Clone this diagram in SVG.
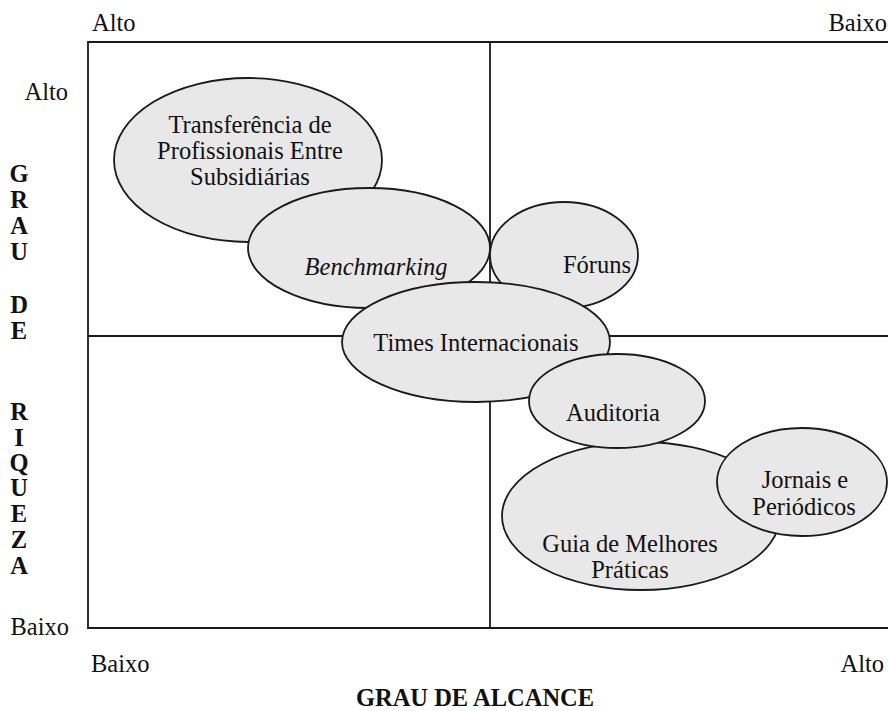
<svg xmlns="http://www.w3.org/2000/svg" width="888" height="711" viewBox="0 0 888 711">
<style>
text{font-family:"Liberation Serif","Times New Roman",serif;font-size:24.5px;fill:#111}
.c{text-anchor:middle}
.b{font-weight:bold}
.ax line,.ax path{stroke:#1a1a1a;stroke-width:1.8;fill:none}
ellipse{fill:#e8e8e8;stroke:#1a1a1a;stroke-width:1.8}
</style>
<rect width="888" height="711" fill="#fff"/>
<g id="axes" class="ax">
<path d="M888 42 H88 V628 H888"/>
<line x1="490" y1="42" x2="490" y2="628"/>
<line x1="88" y1="336" x2="888" y2="336"/>
</g>
<g id="labels">
<text x="92" y="31">Alto</text>
<text x="887" y="31" text-anchor="end">Baixo</text>
<text x="68" y="100" text-anchor="end">Alto</text>
<text x="69" y="635" text-anchor="end">Baixo</text>
<text x="91" y="672">Baixo</text>
<text x="884" y="672" text-anchor="end">Alto</text>
<text x="475" y="706" class="c b">GRAU DE ALCANCE</text>
<g class="b">
<text x="19" y="182" class="c">G</text>
<text x="19" y="208" class="c">R</text>
<text x="19" y="234" class="c">A</text>
<text x="19" y="260" class="c">U</text>
<text x="19" y="313" class="c">D</text>
<text x="19" y="339" class="c">E</text>
<text x="19" y="420" class="c">R</text>
<text x="19" y="446" class="c">I</text>
<text x="19" y="471" class="c">Q</text>
<text x="19" y="496" class="c">U</text>
<text x="19" y="522" class="c">E</text>
<text x="19" y="548" class="c">Z</text>
<text x="19" y="574" class="c">A</text>
</g>
</g>
<g id="transferencia">
<ellipse cx="248" cy="160" rx="134" ry="82"/>
<text x="250" y="133" class="c">Transferência de</text>
<text x="250" y="159" class="c">Profissionais Entre</text>
<text x="250" y="185" class="c">Subsidiárias</text>
</g>
<g id="benchmarking">
<ellipse cx="369" cy="248" rx="121" ry="60"/>
<text x="376" y="275" class="c" font-style="italic">Benchmarking</text>
</g>
<g id="foruns">
<ellipse cx="564" cy="255" rx="74" ry="53"/>
<text x="597" y="273" class="c">Fóruns</text>
</g>
<g id="times">
<ellipse cx="476" cy="342" rx="134" ry="60"/>
<text x="476" y="351" class="c">Times Internacionais</text>
</g>
<g id="guia">
<ellipse cx="641" cy="516" rx="139" ry="74"/>
<text x="630" y="552" class="c">Guia de Melhores</text>
<text x="630" y="578" class="c">Práticas</text>
</g>
<g id="auditoria">
<ellipse cx="617" cy="401" rx="88" ry="47"/>
<text x="613" y="421" class="c">Auditoria</text>
</g>
<g id="jornais">
<ellipse cx="802" cy="482" rx="85" ry="54"/>
<text x="805" y="488" class="c">Jornais e</text>
<text x="804" y="515" class="c">Periódicos</text>
</g>
</svg>
